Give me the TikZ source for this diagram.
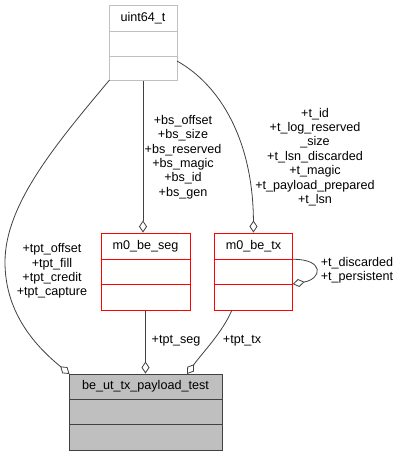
\documentclass[tikz,border=0pt]{standalone}
\usepackage{fontspec}
\setmainfont{Liberation Sans}
\usetikzlibrary{arrows.meta}
\definecolor{edgegray}{HTML}{404040}
\definecolor{boxgray}{HTML}{BFBFBF}
\definecolor{lightborder}{HTML}{C0C0C0}
\tikzset{
  umlbox/.style={draw, rectangle, inner sep=0pt, line width=1pt},
  graybox/.style={umlbox, draw=lightborder},
  redbox/.style={umlbox, draw=red},
  mainbox/.style={umlbox, draw=edgegray, fill=boxgray},
  lbl/.style={font=\fontsize{12.6}{14.4}\selectfont, align=center, inner sep=0pt, text=black},
  agg/.style={draw=edgegray, line width=0.8pt, -{Diamond[open, length=12pt, width=8pt, line width=0.8pt]}},
}
\begin{document}
\begin{tikzpicture}[x=1pt,y=-1pt]
\useasboundingbox (0,0) rectangle (402,456);
% uint64_t
\node[graybox, minimum width=68pt, minimum height=75.5pt] (u) at (143,43) {};
\draw[lightborder, line width=1pt] (109,31.5) -- (177,31.5) (109,56.5) -- (177,56.5);
\node[lbl] (ut) at (143,18.5) {uint64\_t};
% m0_be_seg
\node[redbox, minimum width=89pt, minimum height=77pt] (seg) at (145.5,271.5) {};
\draw[red, line width=1pt] (101,259.3) -- (190,259.3) (101,284.3) -- (190,284.3);
\node[lbl] (segt) at (145.5,246.5) {m0\_be\_seg};
% m0_be_tx
\node[redbox, minimum width=78.5pt, minimum height=77pt] (tx) at (253.5,271.5) {};
\draw[red, line width=1pt] (214.3,259.3) -- (292.7,259.3) (214.3,284.3) -- (292.7,284.3);
\node[lbl] (txt) at (253.5,246.5) {m0\_be\_tx};
% be_ut_tx_payload_test
\node[mainbox, minimum width=153pt, minimum height=76pt] (t) at (145.5,412) {};
\draw[edgegray, line width=1pt] (69,399.3) -- (222,399.3) (69,424.3) -- (222,424.3);
\node[lbl] (tt) at (145.5,386.5) {be\_ut\_tx\_payload\_test};
% edges
\coordinate (uSW) at (109.5,80);
\coordinate (uE) at (177,61);
\coordinate (tNW) at (69.5,374);
\coordinate (tR) at (187,374);
\coordinate (txS) at (232,310);
\coordinate (txR1) at (292.7,259.3);
\coordinate (txR2) at (292.7,284);
\draw[agg] (uSW) .. controls (55,145) and (5,205) .. (5,262) .. controls (5,315) and (38,348) .. (tNW);
\draw[agg] (u.south) -- (u.south |- seg.north);
\draw[agg] (uE) .. controls (220,85) and (253,140) .. (tx.north);
\draw[agg] (seg.south) -- (t.north);
\draw[agg] (txS) .. controls (222,333) and (203,352) .. (tR);
\draw[agg] (txR1) .. controls (325,259) and (322,279) .. (txR2);
% labels
\node[lbl] (l1) at (52,271) {+tpt\_offset\\+tpt\_fill\\+tpt\_credit\\+tpt\_capture};
\node[lbl] (l2) at (183,157) {+bs\_offset\\+bs\_size\\+bs\_reserved\\+bs\_magic\\+bs\_id\\+bs\_gen};
\node[lbl] (l3) at (315,157) {+t\_id\\+t\_log\_reserved\\\_size\\+t\_lsn\_discarded\\+t\_magic\\+t\_payload\_prepared\\+t\_lsn};
\node[lbl] (l4) at (176,341) {+tpt\_seg};
\node[lbl] (l5) at (242,341) {+tpt\_tx};
\node[lbl] (l6) at (357,270.5) {+t\_discarded\\+t\_persistent};
\end{tikzpicture}
\end{document}
